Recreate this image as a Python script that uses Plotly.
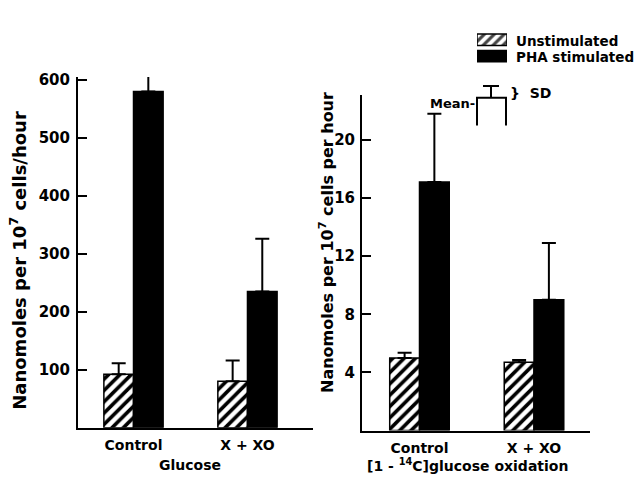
import plotly.graph_objects as go

# ---- data -------------------------------------------------------------
groups = ["Control", "X + XO"]
group_pos = [0, 1]

# Glucose (nanomoles per 10^7 cells/hour)
glu_unstim = [92, 80]
glu_unstim_sd = [19, 36]
glu_pha = [580, 235]
glu_pha_sd = [137, 91]

# [1-14C]glucose oxidation (nanomoles per 10^7 cells per hour)
ox_unstim = [5.0, 4.7]
ox_unstim_sd = [0.35, 0.15]
ox_pha = [17.1, 9.0]
ox_pha_sd = [4.7, 3.9]

left_ticks = [100, 200, 300, 400, 500, 600]
right_ticks = [4, 8, 12, 16, 20]

W, H = 636, 479
FONT = "DejaVu Sans"


def px(x):
    return x / W


def py(y):
    return 1 - y / H


hatch = dict(shape="/", fgcolor="black", bgcolor="white", fgopacity=1, size=8, solidity=0.45)


def up_err(sd):
    return dict(type="data", symmetric=False, array=sd, arrayminus=[0] * len(sd),
                color="black", thickness=2, width=7)


def bar(y, sd, axes, hatched):
    if hatched:
        marker = dict(color="white", pattern=hatch, line=dict(color="black", width=1.5))
    else:
        marker = dict(color="black", line=dict(color="black", width=1.5))
    return go.Bar(x=group_pos, y=y, error_y=up_err(sd), marker=marker,
                  xaxis=axes[0], yaxis=axes[1], cliponaxis=False, showlegend=False)


fig = go.Figure()

# left panel: glucose
fig.add_trace(bar(glu_unstim, glu_unstim_sd, ("x", "y"), True))
fig.add_trace(bar(glu_pha, glu_pha_sd, ("x", "y"), False))

# right panel: glucose oxidation
fig.add_trace(bar(ox_unstim, ox_unstim_sd, ("x2", "y2"), True))
fig.add_trace(bar(ox_pha, ox_pha_sd, ("x2", "y2"), False))

# key swatches on a hidden axis pair
fig.add_trace(go.Bar(x=[1, 1], y=[1, 0], orientation="h", width=0.7,
                     marker=dict(color=["white", "black"],
                                 pattern=dict(shape=["/", ""], fgcolor="black", bgcolor="white",
                                              fgopacity=1, size=7, solidity=0.45),
                                 line=dict(color="black", width=1.5)),
                     xaxis="x3", yaxis="y3", showlegend=False, hoverinfo="skip"))

line_common = dict(showline=True, linecolor="black", linewidth=2, showgrid=False, zeroline=False)
xtick_font = dict(family=FONT, size=14, color="black", weight="bold")
ytick_font = dict(family=FONT, size=15, color="black", weight="bold")

fig.update_layout(
    width=W, height=H,
    margin=dict(l=0, r=0, t=0, b=0),
    paper_bgcolor="white", plot_bgcolor="white",
    barmode="group", bargap=0.48, bargroupgap=0,
    xaxis=dict(domain=[px(78), px(313)], range=[-0.487, 1.575], anchor="y",
               tickvals=group_pos, ticktext=groups, ticks="", ticklabelstandoff=4,
               tickfont=xtick_font, **line_common),
    yaxis=dict(domain=[py(427), py(72)], range=[0, 605], anchor="x",
               tickvals=left_ticks, ticks="inside", ticklen=9, tickwidth=2, tickcolor="black",
               ticklabelstandoff=3, tickfont=ytick_font, **line_common),
    xaxis2=dict(domain=[px(362), px(590)], range=[-0.502, 1.489], anchor="y2",
                tickvals=group_pos, ticktext=groups, ticks="", ticklabelstandoff=4,
                tickfont=xtick_font, **line_common),
    yaxis2=dict(domain=[py(430), py(90)], range=[0, 23.1], anchor="x2",
                tickvals=right_ticks, ticks="inside", ticklen=9, tickwidth=2, tickcolor="black",
                ticklabelstandoff=2, tickfont=ytick_font, **line_common),
    xaxis3=dict(domain=[px(477), px(507)], range=[0, 1], visible=False, anchor="y3", fixedrange=True),
    yaxis3=dict(domain=[py(59), py(26)], range=[-0.5, 1.5], visible=False, anchor="x3", fixedrange=True),
)

txt = dict(family=FONT, color="black", weight="bold")

annotations = [
    dict(x=px(18), y=py(258), text="Nanomoles per 10<sup>7</sup> cells/hour", textangle=-90,
         font=dict(size=18, **txt)),
    dict(x=px(327), y=py(240), text="Nanomoles per 10<sup>7</sup> cells per hour", textangle=-90,
         font=dict(size=16, **txt)),
    dict(x=px(190), y=py(465), text="Glucose", font=dict(size=14, **txt)),
    dict(x=px(467), y=py(465), text="[1 - <sup>14</sup>C]glucose oxidation", font=dict(size=14, **txt)),
    dict(x=px(514), y=py(35), text="Unstimulated", xanchor="left", font=dict(size=13.5, **txt)),
    dict(x=px(514), y=py(52), text="PHA stimulated", xanchor="left", font=dict(size=13.5, **txt)),
    dict(x=px(477), y=py(99), text="Mean-", xanchor="right", font=dict(size=13, **txt)),
    dict(x=px(508), y=py(88), text="}  SD", xanchor="left", font=dict(size=14, **txt)),
]
for a in annotations:
    a.setdefault("xanchor", "center")
    a.update(xref="paper", yref="paper", showarrow=False, yanchor="middle")
fig.update_layout(annotations=annotations)

# Mean / SD key glyph
line = dict(color="black", width=2)
shapes = [
    dict(type="path", path=f"M {px(477)},{py(121)} L {px(477)},{py(93)} L {px(506)},{py(93)} L {px(506)},{py(121)}",
         line=line),
    dict(type="line", x0=px(491), x1=px(491), y0=py(93), y1=py(81), line=line),
    dict(type="line", x0=px(483), x1=px(499), y0=py(81), y1=py(81), line=line),
]
for s in shapes:
    s.update(xref="paper", yref="paper")
fig.update_layout(shapes=shapes)

fig.write_html("out.html")
